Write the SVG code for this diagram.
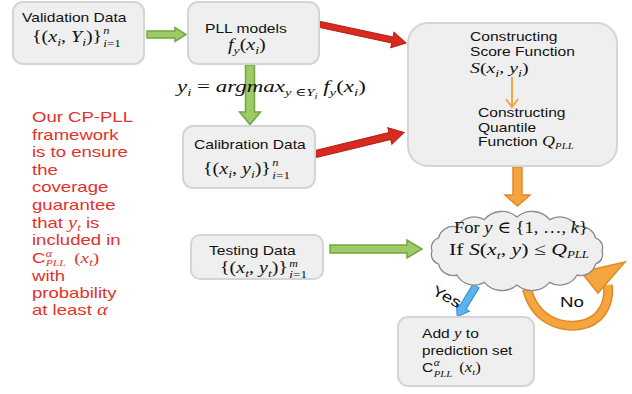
<svg xmlns="http://www.w3.org/2000/svg" width="632" height="394" viewBox="0 0 632 394">
<style>
.box{fill:#efefef;stroke:#d5d5d5;stroke-width:2}
.cloud{fill:#efefef;stroke:#8a8a8a;stroke-width:1.3}
.t{font-family:"Liberation Sans",Arial,sans-serif;font-size:13px;fill:#111}
.m{font-family:"Liberation Serif","DejaVu Serif",serif;font-size:16px;fill:#111}
.red{font-family:"Liberation Sans",Arial,sans-serif;font-size:14.5px;fill:#e3322a}
.rm{font-family:"Liberation Serif","DejaVu Serif",serif;font-size:16px}
.i{font-style:italic}
.s{font-size:11px}
.ss{font-size:8px}
.green{fill:#9ccb67;stroke:#74a544;stroke-width:1.5}
.redar{fill:#d92a1f;stroke:#b3211a;stroke-width:1}
.orange{fill:#f4a540;stroke:#e08a25;stroke-width:1.5}
.blue{fill:#5db4ec;stroke:#3a92d8;stroke-width:1.2}
</style>

<g id="connectors">
  <polygon class="green" points="147,31 175,31 175,27.5 186,34.5 175,41.5 175,38 147,38"/>
  <polygon class="green" points="245.5,65 254.5,65 254.5,112 260.5,112 250,124.5 239.5,112 245.5,112"/>
  <polygon class="green" points="330,245 407,245 407,240 422,249 407,258 407,253 330,253"/>
  <polygon class="redar" transform="translate(320,24.5) rotate(12.1)" points="0,-3 74,-3 74,-8 88,0 74,8 74,3 0,3"/>
  <polygon class="redar" transform="translate(316,154) rotate(-13.7)" points="0,-3.5 76,-3.5 76,-8.5 90.6,0 76,8.5 76,3.5 0,3.5"/>
  <polygon class="orange" points="513,167 522,167 522,195 530,195 517.5,206 505,195 513,195"/>
  <polygon class="blue" transform="translate(476,286) rotate(121.5)" points="0,-3.5 25,-3.5 25,-7.5 36,0 25,7.5 25,3.5 0,3.5"/>
  <path d="M527 289 C535 320 560 328 580 325 C600 322 610 305 608 285" fill="none" stroke="#e08a25" stroke-width="10"/>
  <path d="M527 289 C535 320 560 328 580 325 C600 322 610 305 608 285" fill="none" stroke="#f4a540" stroke-width="7"/>
  <polygon class="orange" points="581,272 625,262 598,293"/>
  <g id="formula-label">
    <text class="m" style="font-size:17px" transform="translate(177,92) scale(1.35,1)"><tspan class="i">y</tspan><tspan class="i s" dy="4">i</tspan><tspan dy="-4"> = </tspan><tspan class="i">argmax</tspan><tspan class="s" dy="4"><tspan class="i">y</tspan> ∈<tspan class="i">Y</tspan></tspan><tspan class="i ss" dy="3">i</tspan><tspan dy="-7"> </tspan><tspan class="i">f</tspan><tspan class="i s" dy="4">y</tspan><tspan dy="-4">(</tspan><tspan class="i">x</tspan><tspan class="i s" dy="4">i</tspan><tspan dy="-4">)</tspan></text>
  </g>
  <text class="t" style="font-size:15px" transform="translate(431,294) rotate(28) scale(1.25,1)">Yes</text>
  <text class="t" style="font-size:15px" transform="translate(560,307) scale(1.25,1)">No</text>
</g>

<g id="validation">
  <rect class="box" x="13" y="2" width="131" height="62" rx="10"/>
  <text class="t" transform="translate(22,22) scale(1.2,1)">Validation Data</text>
  <g transform="translate(32,42) scale(1.25,1)">
    <text class="m">{(<tspan class="i">x</tspan><tspan class="i s" dy="4">i</tspan><tspan dy="-4">, </tspan><tspan class="i">Y</tspan><tspan class="i s" dy="4">i</tspan><tspan dy="-4">)}</tspan></text>
    <text class="m i" style="font-size:10px" x="57" y="-8">n</text>
    <text class="m" style="font-size:10.5px" x="57" y="5"><tspan class="i">i</tspan>=1</text>
  </g>
</g>

<g id="pll-models">
  <rect class="box" x="188" y="2" width="131" height="62" rx="10"/>
  <text class="t" transform="translate(205,33) scale(1.2,1)">PLL models</text>
  <text class="m" transform="translate(228,50) scale(1.25,1)"><tspan class="i">f</tspan><tspan class="i s" dy="4">y</tspan><tspan dy="-4">(</tspan><tspan class="i">x</tspan><tspan class="i s" dy="4">i</tspan><tspan dy="-4">)</tspan></text>
</g>

<g id="calibration">
  <rect class="box" x="183" y="126" width="132" height="62" rx="10"/>
  <text class="t" transform="translate(194,149) scale(1.2,1)">Calibration Data</text>
  <g transform="translate(203,174) scale(1.25,1)">
    <text class="m">{(<tspan class="i">x</tspan><tspan class="i s" dy="4">i</tspan><tspan dy="-4">, </tspan><tspan class="i">y</tspan><tspan class="i s" dy="4">i</tspan><tspan dy="-4">)}</tspan></text>
    <text class="m i" style="font-size:10px" x="55.5" y="-8">n</text>
    <text class="m" style="font-size:10.5px" x="55.5" y="5"><tspan class="i">i</tspan>=1</text>
  </g>
</g>

<g id="construct">
  <rect class="box" x="408" y="23" width="209" height="143" rx="20"/>
  <text class="t" transform="translate(470,41) scale(1.2,1)">Constructing</text>
  <text class="t" transform="translate(470,55.5) scale(1.2,1)">Score Function</text>
  <text class="m" style="font-size:15.5px" transform="translate(470,72.5) scale(1.28,1)"><tspan class="i">S</tspan>(<tspan class="i">x</tspan><tspan class="i s" dy="4">i</tspan><tspan dy="-4">, </tspan><tspan class="i">y</tspan><tspan class="i s" dy="4">i</tspan><tspan dy="-4">)</tspan></text>
  <line x1="512" y1="77" x2="512" y2="106" stroke="#f3a649" stroke-width="2"/>
  <polyline points="506,99 512,107 518,99" fill="none" stroke="#f3a649" stroke-width="2"/>
  <text class="t" transform="translate(478,117) scale(1.2,1)">Constructing</text>
  <text class="t" transform="translate(478,131.5) scale(1.2,1)">Quantile</text>
  <text class="t" transform="translate(478,146) scale(1.2,1)">Function <tspan class="m i" style="font-size:15px">Q</tspan><tspan class="m i" style="font-size:9px" dy="3">PLL</tspan></text>
</g>

<g id="testing">
  <rect class="box" x="191" y="235" width="132" height="44" rx="9"/>
  <text class="t" transform="translate(209,255) scale(1.2,1)">Testing Data</text>
  <g transform="translate(220,273) scale(1.25,1)">
    <text class="m">{(<tspan class="i">x</tspan><tspan class="i s" dy="4">t</tspan><tspan dy="-4">, </tspan><tspan class="i">y</tspan><tspan class="i s" dy="4">t</tspan><tspan dy="-4">)}</tspan></text>
    <text class="m i" style="font-size:9.5px" x="55.5" y="-6.5">m</text>
    <text class="m" style="font-size:10.5px" x="55.5" y="5"><tspan class="i">i</tspan>=1</text>
  </g>
</g>

<g id="check">
  <path class="cloud" d="M432 251 A10 10 0 0 1 438.5 238 A15 15 0 0 1 456.9 227 A20 20 0 0 1 484.4 219.6 A23 23 0 0 1 517 217 A23 23 0 0 1 549.6 219.6 A20 20 0 0 1 577.1 227 A15 15 0 0 1 595.5 238 A10 10 0 0 1 602 251 A10 10 0 0 1 595.5 264 A15 15 0 0 1 577.1 275 A20 20 0 0 1 549.6 282.4 A23 23 0 0 1 517 285 A23 23 0 0 1 484.4 282.4 A20 20 0 0 1 456.9 275 A15 15 0 0 1 438.5 264 A10 10 0 0 1 432 251 Z"/>
  <text class="m" style="font-size:17px" transform="translate(454,233) scale(1.09,1)">For <tspan class="i">y</tspan>  ∈ {1, …, <tspan class="i">k</tspan>}</text>
  <text class="m" style="font-size:17px" transform="translate(449,255) scale(1.28,1)">If <tspan class="i">S</tspan>(<tspan class="i">x</tspan><tspan class="i s" dy="4">t</tspan><tspan dy="-4">, </tspan><tspan class="i">y</tspan>) ≤ <tspan class="i">Q</tspan><tspan class="i" style="font-size:10px" dy="3">PLL</tspan></text>
</g>

<g id="add">
  <rect class="box" x="398" y="317" width="136" height="69" rx="10"/>
  <text class="t" transform="translate(422,338) scale(1.2,1)">Add <tspan class="m i" style="font-size:14px">y</tspan> to</text>
  <text class="t" transform="translate(422,355) scale(1.17,1)">prediction set</text>
  <g transform="translate(422,372) scale(1.2,1)">
    <text class="t">C</text>
    <text class="m i" style="font-size:9.5px" x="9.8" y="-6.5">α</text>
    <text class="m i" style="font-size:9px" x="9.8" y="4.5">PLL</text>
    <text class="m" style="font-size:14px" x="31">(<tspan class="i">x</tspan><tspan class="i" style="font-size:9px" dy="3">t</tspan><tspan dy="-3">)</tspan></text>
  </g>
</g>

<g id="note">
  <g transform="translate(32,0) scale(1.28,1)" class="red">
    <text x="0" y="122">Our CP-PLL</text>
    <text x="0" y="140">framework</text>
    <text x="0" y="157.5">is to ensure</text>
    <text x="0" y="175">the</text>
    <text x="0" y="192.5">coverage</text>
    <text x="0" y="210.5">guarantee</text>
    <text x="0" y="228">that <tspan class="rm i">y</tspan><tspan class="rm i" style="font-size:10px" dy="3">t</tspan><tspan dy="-3"> is</tspan></text>
    <text x="0" y="245.5">included in</text>
    <text x="0" y="263.5">C</text>
    <text class="rm i" style="font-size:9.5px" x="10.8" y="257">α</text>
    <text class="rm i" style="font-size:9px" x="10.8" y="266">PLL</text>
    <text class="rm" style="font-size:15px" x="33" y="263.5">(<tspan class="i">x</tspan><tspan class="i" style="font-size:10px" dy="3">t</tspan><tspan dy="-3">)</tspan></text>
    <text x="0" y="281">with</text>
    <text x="0" y="298">probability</text>
    <text x="0" y="315.5">at least <tspan class="rm i">α</tspan></text>
  </g>
</g>
</svg>
